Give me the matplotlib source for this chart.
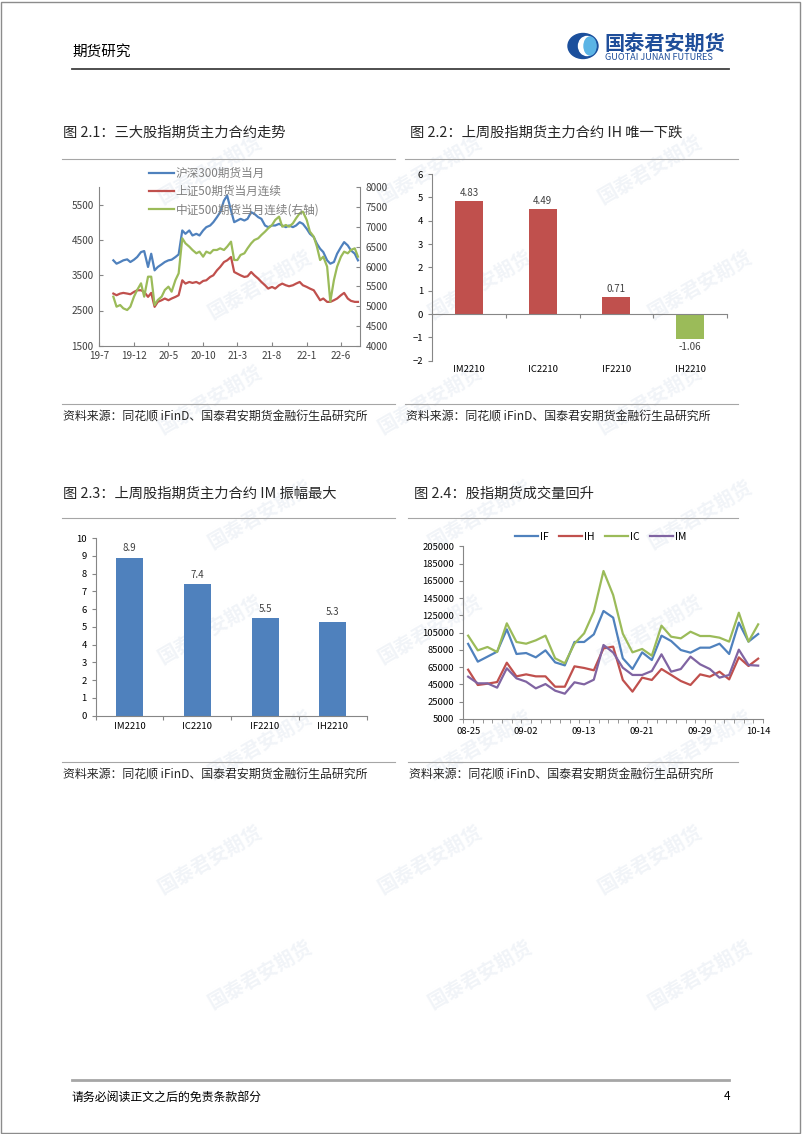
import numpy as np
import pandas as pd
import matplotlib
matplotlib.use('Agg')
import matplotlib.pyplot as plt
from matplotlib.patches import Ellipse, Rectangle
from matplotlib.lines import Line2D

plt.rcParams['font.family'] = ['Noto Sans CJK SC', 'DejaVu Sans']

W, H = 802, 1134

### fig 2.1 : main contracts, semi-monthly readings
dates_21 = pd.date_range('2019-09-01', '2022-08-15', freq='SMS')
hs300 = [3925, 3830, 3877, 3925, 3953, 3877, 3943, 4019, 4160, 4189,
         3736, 4113, 3641, 3736, 3811, 3877, 3925, 3943, 4019, 4094,
         4774, 4679, 4774, 4632, 4679, 4632, 4774, 4868, 4915, 5009,
         5151, 5292, 5623, 5764, 5340, 5009, 5056, 5104, 5056, 5104,
         5292, 5245, 5151, 5104, 4915, 4868, 4915, 4915, 4962, 4915,
         4868, 4915, 4868, 4915, 5009, 4962, 4821, 4679, 4585, 4396,
         4255, 4160, 3925, 3830, 3877, 4113, 4302, 4443, 4349, 4208,
         4113, 3925]
sz50 = [2981, 2934, 2981, 3000, 2981, 2962, 3028, 3075, 3075, 3028,
        2887, 3000, 2604, 2745, 2792, 2840, 2792, 2840, 2887, 2934,
        3358, 3264, 3311, 3283, 3311, 3264, 3340, 3358, 3453, 3500,
        3641, 3736, 3877, 3925, 4019, 3594, 3547, 3500, 3453, 3472,
        3594, 3500, 3406, 3311, 3217, 3123, 3170, 3123, 3217, 3264,
        3217, 3189, 3217, 3264, 3311, 3217, 3170, 3123, 3075, 2934,
        2792, 2840, 2745, 2745, 2792, 2840, 2934, 3000, 2840, 2774,
        2745, 2745]
zz500 = [5238, 4985, 5027, 4943, 4901, 4985, 5238, 5406, 5575, 5238,
         5743, 5743, 5027, 5154, 5238, 5406, 5491, 5364, 5659, 5827,
         6712, 6585, 6501, 6417, 6333, 6375, 6248, 6375, 6333, 6417,
         6417, 6459, 6417, 6501, 6627, 6164, 6164, 6291, 6333, 6459,
         6585, 6669, 6712, 6796, 6880, 6964, 7048, 7175, 7259, 7006,
         7048, 7006, 7090, 7217, 7343, 7385, 7175, 6880, 6754, 6501,
         6164, 6248, 5996, 5112, 5659, 5996, 6248, 6375, 6333, 6417,
         6459, 6248]
tick_months = ['2019-07-01', '2019-12-01', '2020-05-01', '2020-10-01',
               '2021-03-01', '2021-08-01', '2022-01-01', '2022-06-01']

### fig 2.2 / 2.3
contracts = ['IM2210', 'IC2210', 'IF2210', 'IH2210']
week_chg = [4.83, 4.49, 0.71, -1.06]
amplitude = [8.9, 7.4, 5.5, 5.3]

### fig 2.4 : volume
vol_dates = ['08-25', '08-26', '08-29', '08-30', '08-31', '09-01', '09-02', '09-05',
             '09-06', '09-07', '09-08', '09-09', '09-13', '09-14', '09-15', '09-16',
             '09-19', '09-20', '09-21', '09-22', '09-23', '09-26', '09-27', '09-28',
             '09-29', '09-30', '10-10', '10-11', '10-12', '10-13', '10-14']
vol_if = [92000, 71400, 77200, 83000, 108800, 80300, 81400, 76400, 84500, 70600, 67100,
          94200, 94200, 103000, 130100, 122400, 75300, 62900, 82200, 73300, 101500,
          95300, 84900, 81800, 87600, 87600, 92200, 80300, 116600, 94600, 103400]
vol_ih = [62100, 44400, 45900, 47800, 70200, 54400, 56700, 54400, 54400, 42400, 42400,
          66000, 64100, 61400, 86800, 88800, 50200, 36700, 52900, 50200, 62900,
          56000, 49000, 44400, 56700, 54000, 59800, 50900, 76400, 66400, 74900]
vol_ic = [101500, 84500, 88400, 82600, 115800, 94200, 92200, 96100, 101500, 75300, 69500,
          92200, 104200, 129300, 176400, 148600, 103800, 82200, 86100, 78300, 113100,
          100300, 98400, 106100, 101100, 101100, 99200, 94600, 128100, 94600, 114600]
vol_im = [54000, 46300, 46300, 41300, 63700, 52100, 48200, 40500, 45500, 37800, 34300,
          47500, 45100, 50500, 90700, 82000, 64400, 56000, 56000, 60600, 79900,
          59800, 62900, 77200, 68300, 62900, 52900, 56000, 85300, 67500, 66800]

BLUE = '#4F81BD'
RED = '#C0504D'
GREEN = '#9BBB59'
PURPLE = '#8064A2'
AXC = '#868686'
TXT = '#404040'

fig = plt.figure(figsize=(W / 100, H / 100), dpi=100)

def fx(x):
    return x / W

def fy(y):
    return 1 - y / H

def px_axes(x0, y0, x1, y1):
    return fig.add_axes([fx(x0), fy(y1), (x1 - x0) / W, (y1 - y0) / H])

def hline(x0, x1, y, color='#a6a6a6', lw=0.8):
    fig.add_artist(Line2D([fx(x0), fx(x1)], [fy(y), fy(y)], color=color, lw=lw))

## watermarks (very faint, behind everything)
for row in range(8):
    for col in range(3):
        x = 210 + col * 220 + (row % 2) * 50
        y = 170 + row * 115
        fig.text(fx(x), fy(y), '国泰君安期货', fontsize=14, color='#f1f4f8',
                 rotation=30, ha='center', va='center', zorder=-5, fontweight='bold')

## page frame
fig.add_artist(Rectangle((0.001, 0.001), 0.997, 0.997, transform=fig.transFigure,
                         fill=False, edgecolor='#8c8c8c', lw=1.0))

## header
fig.text(fx(72), fy(52), '期货研究', fontsize=10.5, color='black', va='center', ha='left')
hline(72, 729, 69, color='#404040', lw=1.3)
fig.add_artist(Ellipse((fx(583), fy(46)), 30 / W, 25 / H, transform=fig.transFigure,
                       color='#1B4F9C'))
fig.add_artist(Ellipse((fx(587), fy(46)), 17 / W, 19 / H, transform=fig.transFigure,
                       color='white'))
fig.add_artist(Ellipse((fx(590), fy(46)), 12 / W, 18 / H, transform=fig.transFigure,
                       color='#5BB4E5'))
fig.text(fx(604), fy(43), '国泰君安期货', fontsize=14.5, color='#1F4E9A',
         fontweight='bold', va='center', ha='left')
fig.text(fx(605), fy(57), 'GUOTAI JUNAN FUTURES', fontsize=6.6, color='#1F4E9A',
         va='center', ha='left')

## footer
hline(72, 729, 1080, color='#a6a6a6', lw=2)
fig.text(fx(72), fy(1097), '请务必阅读正文之后的免责条款部分', fontsize=8.6,
         color='black', va='center', ha='left')
fig.text(fx(730), fy(1097), '4', fontsize=8.5, color='black', va='center', ha='right')

## panel titles / rules / sources
titles = [(63, 133, '图 2.1：三大股指期货主力合约走势'),
          (410, 133, '图 2.2：上周股指期货主力合约 IH 唯一下跌'),
          (63, 494, '图 2.3：上周股指期货主力合约 IM 振幅最大'),
          (414, 494, '图 2.4：股指期货成交量回升')]
for x, y, t in titles:
    fig.text(fx(x), fy(y), t, fontsize=10.3, color='#262626', va='center', ha='left')
src = '资料来源：同花顺 iFinD、国泰君安期货金融衍生品研究所'
for x0, x1, yt, ys in [(62, 395, 159, 404), (405, 738, 159, 404),
                       (62, 395, 518, 762), (408, 738, 518, 762)]:
    hline(x0, x1, yt)
    hline(x0, x1, ys)
    fig.text(fx(x0 + 1), fy(ys + 12), src, fontsize=8.6, color='#262626',
             va='center', ha='left')

def style_axes(ax, tickdir='out'):
    ax.set_facecolor('none')
    for s in ['top', 'right']:
        ax.spines[s].set_visible(False)
    for s in ['left', 'bottom']:
        ax.spines[s].set_color(AXC)
        ax.spines[s].set_linewidth(0.8)
    ax.tick_params(colors=AXC, labelcolor='black', length=3, width=0.8,
                   direction=tickdir, labelsize=6.8)

### ---------------- fig 2.1
ax1 = px_axes(99.3, 187.3, 360, 345.7)
style_axes(ax1, tickdir='in')
ax1.plot(dates_21, hs300, color=BLUE, lw=1.6, label='沪深300期货当月')
ax1.plot(dates_21, sz50, color=RED, lw=1.6, label='上证50期货当月连续')
ax1.set_ylim(1500, 6000)
ax1.set_yticks([1500, 2500, 3500, 4500, 5500])
ax1.set_xlim(pd.Timestamp('2019-07-01'), pd.Timestamp('2022-08-24'))
tms = pd.to_datetime(tick_months)
ax1.set_xticks(tms)
ax1.set_xticklabels(['%d-%d' % (d.year % 100, d.month) for d in tms])
ax1.tick_params(labelsize=7.2, labelcolor='#404040', pad=4)
ax1b = ax1.twinx()
ax1b.set_facecolor('none')
ax1b.plot(dates_21, zz500, color=GREEN, lw=1.6, label='中证500期货当月连续(右轴)')
ax1b.set_ylim(4000, 8000)
ax1b.set_yticks(np.arange(4000, 8001, 500))
for s in ['top', 'left', 'bottom']:
    ax1b.spines[s].set_visible(False)
ax1b.spines['right'].set_color(AXC)
ax1b.spines['right'].set_linewidth(0.8)
ax1b.tick_params(colors=AXC, labelcolor='#404040', length=3, width=0.8,
                 direction='in', labelsize=7.2, pad=4)
h1, l1 = ax1.get_legend_handles_labels()
h2, l2 = ax1b.get_legend_handles_labels()
leg = fig.legend(h1 + h2, l1 + l2, loc='upper left', bbox_to_anchor=(fx(144), fy(162)),
                 frameon=False, fontsize=8.4, handlelength=2.2, handletextpad=0.1,
                 labelspacing=0.45, borderaxespad=0)
for t in leg.get_texts():
    t.set_color('#7f7f7f')

### ---------------- fig 2.2
ax2 = px_axes(432, 174, 727, 360.7)
style_axes(ax2)
xs = np.arange(len(contracts))
cols = [RED if v >= 0 else GREEN for v in week_chg]
ax2.bar(xs, week_chg, width=0.38, color=cols, zorder=2)
ax2.set_ylim(-2, 6)
ax2.set_yticks(range(-2, 7))
ax2.set_xlim(-0.5, len(contracts) - 0.5)
ax2.spines['bottom'].set_position(('data', 0))
ax2.set_xticks(np.arange(0.5, len(contracts), 1.0))
ax2.set_xticklabels([])
for i, v in enumerate(week_chg):
    off = 0.15 if v >= 0 else -0.15
    ax2.text(i, v + off, '%.2f' % v, ha='center', va='bottom' if v >= 0 else 'top',
             fontsize=7, color=TXT)
    ax2.text(i, -2.2, contracts[i], ha='center', va='top', fontsize=6.8, color='black')

### ---------------- fig 2.3
ax3 = px_axes(95.7, 538, 366.7, 715.7)
style_axes(ax3)
ax3.bar(xs, amplitude, width=0.40, color=BLUE, zorder=2)
ax3.set_ylim(0, 10)
ax3.set_yticks(range(0, 11))
ax3.set_xlim(-0.5, len(contracts) - 0.5)
ax3.set_xticks(np.arange(-0.5, len(contracts), 1.0))
ax3.set_xticklabels([])
for i, v in enumerate(amplitude):
    ax3.text(i, v + 0.25, '%.1f' % v, ha='center', va='bottom', fontsize=7, color=TXT)
    ax3.text(i, -0.35, contracts[i], ha='center', va='top', fontsize=6.8, color='black')

### ---------------- fig 2.4
ax4 = px_axes(463.3, 546.3, 763, 719)
style_axes(ax4)
xv = np.arange(len(vol_dates))
ax4.plot(xv, vol_if, color=BLUE, lw=1.6, label='IF')
ax4.plot(xv, vol_ih, color=RED, lw=1.6, label='IH')
ax4.plot(xv, vol_ic, color=GREEN, lw=1.6, label='IC')
ax4.plot(xv, vol_im, color=PURPLE, lw=1.6, label='IM')
ax4.set_ylim(5000, 205000)
ax4.set_yticks(np.arange(5000, 205001, 20000))
ax4.set_xlim(-0.4, len(vol_dates) - 0.6)
ax4.set_xticks(xv[::6])
ax4.set_xticklabels([vol_dates[i] for i in xv[::6]])
ax4.set_xticks(np.arange(-0.5, len(vol_dates), 1.0), minor=True)
ax4.tick_params(axis='x', which='major', length=0, pad=6)
ax4.tick_params(axis='x', which='minor', length=3, color=AXC, direction='out')
leg4 = ax4.legend(loc='center', bbox_to_anchor=(fx(601), fy(537)),
                  bbox_transform=fig.transFigure, ncol=4, frameon=False, fontsize=7.5,
                  handlelength=2.2, handletextpad=0.2, columnspacing=1.0)

fig.savefig('out.png', dpi=100)
